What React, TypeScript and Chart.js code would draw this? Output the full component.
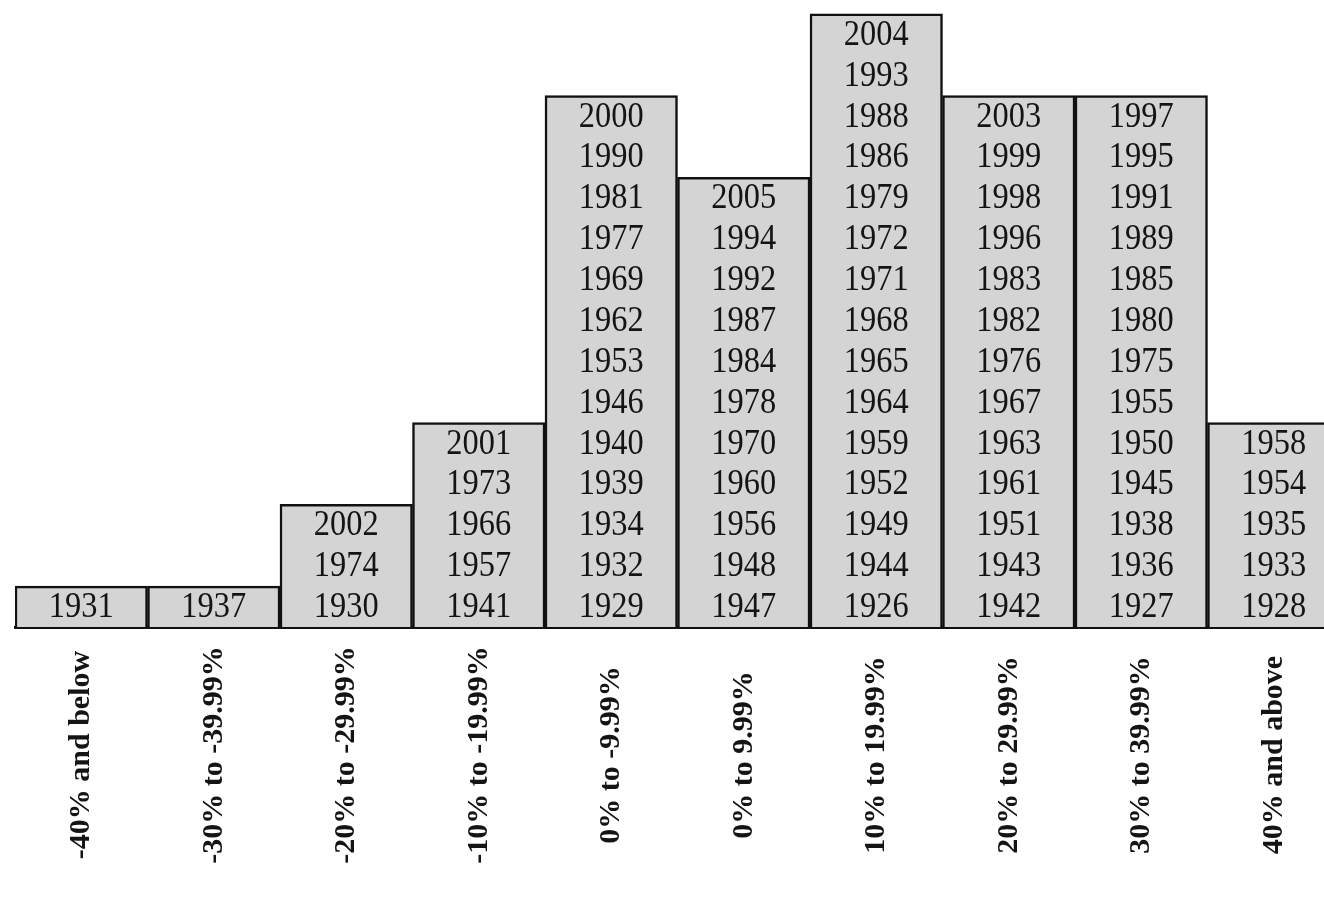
import { useEffect, useRef } from "react";
import { Chart, registerables } from "chart.js";

Chart.register(...registerables);

const categories = [
  "-40% and below",
  "-30% to -39.99%",
  "-20% to -29.99%",
  "-10% to -19.99%",
  "0% to -9.99%",
  "0% to 9.99%",
  "10% to 19.99%",
  "20% to 29.99%",
  "30% to 39.99%",
  "40% and above",
];

const yearsMinus40 = ["1931"];
const yearsMinus30 = ["1937"];
const yearsMinus20 = ["2002", "1974", "1930"];
const yearsMinus10 = ["2001", "1973", "1966", "1957", "1941"];
const yearsMinus0 = ["2000", "1990", "1981", "1977", "1969", "1962", "1953", "1946", "1940", "1939", "1934", "1932", "1929"];
const yearsPlus0 = ["2005", "1994", "1992", "1987", "1984", "1978", "1970", "1960", "1956", "1948", "1947"];
const yearsPlus10 = ["2004", "1993", "1988", "1986", "1979", "1972", "1971", "1968", "1965", "1964", "1959", "1952", "1949", "1944", "1926"];
const yearsPlus20 = ["2003", "1999", "1998", "1996", "1983", "1982", "1976", "1967", "1963", "1961", "1951", "1943", "1942"];
const yearsPlus30 = ["1997", "1995", "1991", "1989", "1985", "1980", "1975", "1955", "1950", "1945", "1938", "1936", "1927"];
const yearsPlus40 = ["1958", "1954", "1935", "1933", "1928"];

const columns = [
  yearsMinus40,
  yearsMinus30,
  yearsMinus20,
  yearsMinus10,
  yearsMinus0,
  yearsPlus0,
  yearsPlus10,
  yearsPlus20,
  yearsPlus30,
  yearsPlus40,
];

const counts = columns.map((c) => c.length);

const textPlugin = {
  id: "yearText",
  afterDatasetsDraw(chart: any) {
    const { ctx, scales, chartArea } = chart;
    const x = scales.x;
    const y = scales.y;
    ctx.save();
    ctx.fillStyle = "#141414";
    ctx.textAlign = "center";
    ctx.textBaseline = "middle";
    ctx.font = "36px 'Liberation Serif', 'Times New Roman', serif";
    columns.forEach((col, i) => {
      const cx = x.getPixelForValue(i);
      col.forEach((yr, j) => {
        const k = col.length - 1 - j;
        const cy = y.getPixelForValue(k + 0.5);
        ctx.save();
        ctx.translate(cx, cy + 1);
        ctx.scale(0.9, 1);
        ctx.fillText(yr, 0, 0);
        ctx.restore();
      });
    });
    ctx.font = "bold 30px 'Liberation Serif', 'Times New Roman', serif";
    const labelY = chartArea.bottom + 128;
    categories.forEach((c, i) => {
      const cx = x.getPixelForValue(i);
      ctx.save();
      ctx.translate(cx, labelY);
      ctx.rotate(-Math.PI / 2);
      ctx.fillText(c, 0, 0);
      ctx.restore();
    });
    ctx.restore();
  },
};

export default function App() {
  const ref = useRef<HTMLCanvasElement | null>(null);
  useEffect(() => {
    if (!ref.current) return;
    const chart = new Chart(ref.current, {
      type: "bar",
      data: {
        labels: categories,
        datasets: [
          {
            data: counts,
            backgroundColor: "#d4d4d4",
            borderColor: "#111111",
            borderWidth: 2.5,
            barPercentage: 1,
            categoryPercentage: 1,
          },
        ],
      },
      options: {
        responsive: false,
        animation: false,
        maintainAspectRatio: false,
        layout: { padding: { left: 15, right: 5, top: 0, bottom: 266 } },
        plugins: {
          legend: { display: false },
          tooltip: { enabled: false },
          title: { display: false },
        },
        scales: {
          x: {
            display: true,
            grid: { display: false },
            ticks: { display: false },
            border: { display: true, color: "#111111", width: 3 },
          },
          y: {
            display: false,
            min: 0,
            max: 15.34,
          },
        },
      },
      plugins: [textPlugin],
    });
    return () => chart.destroy();
  }, []);
  return (
    <div
      style={{
        position: "fixed",
        left: 0,
        top: 0,
        width: 1324,
        height: 901,
        overflow: "hidden",
        background: "#ffffff",
      }}
    >
      <canvas ref={ref} width={1345} height={901} style={{ display: "block" }} />
    </div>
  );
}
